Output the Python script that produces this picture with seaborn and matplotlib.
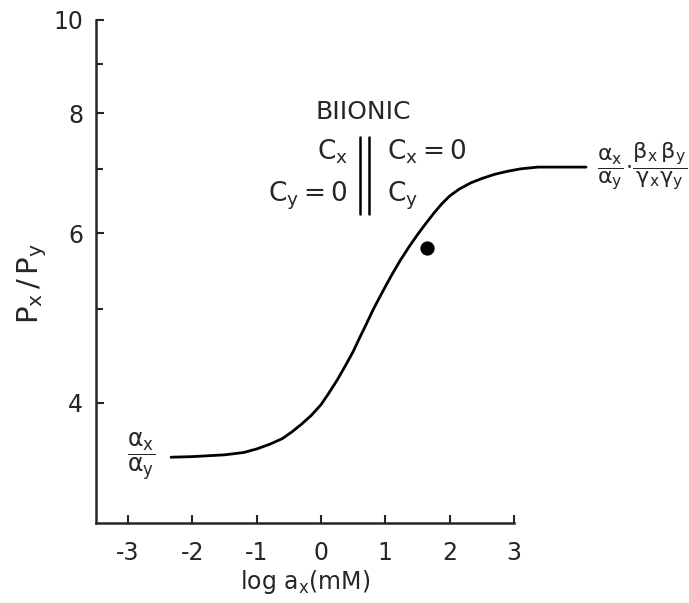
import matplotlib
matplotlib.use("Agg")
import matplotlib.pyplot as plt
import matplotlib.ticker as mticker
import seaborn as sns
import pandas as pd

# Permeability ratio versus log activity (biionic conditions)
log_ax = [-2.33, -2.0, -1.5, -1.2, -1.0, -0.8, -0.6, -0.45, -0.3, -0.15,
          0.0, 0.12, 0.25, 0.38, 0.5, 0.6, 0.7, 0.8, 0.9, 1.0, 1.1, 1.23,
          1.37, 1.5, 1.62, 1.75, 1.87, 2.0, 2.15, 2.33, 2.5, 2.7, 2.9,
          3.1, 3.37, 4.12]
px_py = [3.51, 3.515, 3.53, 3.55, 3.58, 3.62, 3.67, 3.73, 3.80, 3.88,
         3.98, 4.09, 4.22, 4.37, 4.52, 4.67, 4.82, 4.98, 5.13, 5.28, 5.43,
         5.62, 5.81, 5.98, 6.13, 6.29, 6.43, 6.56, 6.67, 6.77, 6.84, 6.91,
         6.96, 7.00, 7.03, 7.03]

# Single measured point
point_x = [1.65]
point_y = [5.79]

x_ticks = [-3, -2, -1, 0, 1, 2, 3]
y_major = [4, 6, 8, 10]
y_minor = [5, 7, 9]

curve = pd.DataFrame({"log_ax": log_ax, "ratio": px_py})
dots = pd.DataFrame({"log_ax": point_x, "ratio": point_y})

sns.set_style("ticks")
plt.rcParams["font.family"] = ["DejaVu Sans"]
plt.rcParams["mathtext.fontset"] = "dejavusans"

fig = plt.figure(figsize=(6.89, 6.03), dpi=100)
ax = fig.add_axes([0.139, 0.133, 0.607, 0.834])

sns.lineplot(data=curve, x="log_ax", y="ratio", ax=ax, color="black",
             linewidth=2.0, sort=False, estimator=None, clip_on=False)
sns.scatterplot(data=dots, x="log_ax", y="ratio", ax=ax, color="black",
                s=90, edgecolor="black", zorder=5)

ax.set_yscale("log")
ax.set_xlim(-3.5, 3.0)
ax.set_ylim(3.0, 10.0)
ax.set_xticks(x_ticks)
ax.set_xticklabels([str(t) if t >= 0 else "-" + str(-t) for t in x_ticks])
ax.yaxis.set_major_locator(mticker.FixedLocator(y_major))
ax.yaxis.set_major_formatter(mticker.FixedFormatter([str(t) for t in y_major]))
ax.yaxis.set_minor_locator(mticker.FixedLocator(y_minor))
ax.yaxis.set_minor_formatter(mticker.NullFormatter())

sns.despine(ax=ax)
for s in ("left", "bottom"):
    ax.spines[s].set_linewidth(1.8)
ax.tick_params(axis="both", which="major", direction="in", length=6,
               width=1.5, labelsize=17)
ax.tick_params(axis="x", which="major", pad=13)
ax.tick_params(axis="y", which="major", pad=9)
ax.tick_params(axis="y", which="minor", direction="in", length=5, width=1.5)

ax.set_xlabel(r"log $\mathregular{a_x}$(mM)", fontsize=17, labelpad=2)
ax.set_ylabel(r"$\mathregular{P_x\,/\,P_y}$", fontsize=21)
ax.yaxis.set_label_coords(-0.112, 0.477)

# Limiting values of the ratio at the two ends of the curve
ax.text(-2.79, 3.51, r"$\dfrac{\mathregular{\alpha_x}}{\mathregular{\alpha_y}}$",
        fontsize=17, ha="center", va="center")
ax.text(4.29, 7.03,
        r"$\dfrac{\mathregular{\alpha_x}}{\mathregular{\alpha_y}}\!\cdot\!"
        r"\dfrac{\mathregular{\beta_x\,\beta_y}}{\mathregular{\gamma_x\gamma_y}}$",
        fontsize=16, ha="left", va="center", clip_on=False)

# Biionic condition scheme
ax.text(0.656, 7.88, "BIIONIC", fontsize=18, ha="center", va="baseline")
ax.text(0.42, 7.16, r"$\mathregular{C_x}$", fontsize=19, ha="right", va="baseline")
ax.text(1.03, 7.16, r"$\mathregular{C_x = 0}$", fontsize=19, ha="left", va="baseline")
ax.text(0.42, 6.47, r"$\mathregular{C_y = 0}$", fontsize=19, ha="right", va="baseline")
ax.text(1.03, 6.47, r"$\mathregular{C_y}$", fontsize=19, ha="left", va="baseline")
ax.plot([0.61, 0.61], [6.28, 7.55], color="black", lw=1.8)
ax.plot([0.75, 0.75], [6.28, 7.55], color="black", lw=1.8)

fig.savefig("out.png", dpi=100)
